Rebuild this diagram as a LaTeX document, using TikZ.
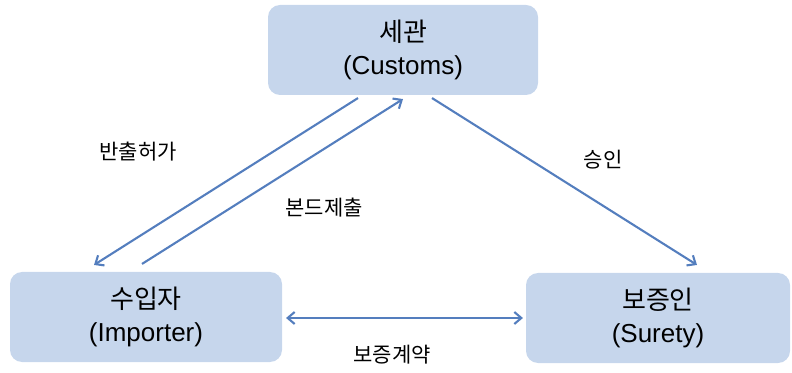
\documentclass[tikz,border=0pt]{standalone}
\usepackage{fontspec}
\setmainfont{Liberation Sans}
\newfontfamily\kor{Noto Sans CJK KR}
\usetikzlibrary{arrows.meta}

\definecolor{boxblue}{RGB}{198,214,236}
\definecolor{linkblue}{RGB}{84,126,190}

\begin{document}
\begin{tikzpicture}[x=1pt,y=1pt,>={Straight Barb[length=7pt,width=12pt]},
                line width=2.1pt,
                party/.style={rectangle,rounded corners=12pt,fill=boxblue,
                  minimum width=270pt,minimum height=90pt,align=center,
                  font=\fontsize{26}{33}\selectfont},
                link/.style={draw=linkblue,->},
                tag/.style={font=\kor\fontsize{21}{24}\selectfont}]
  \useasboundingbox (0,0) rectangle (792,372);

  \node[party] (customs) at (403,322) {{\kor 세관}\\(Customs)};
  \node[party,minimum width=272pt] (importer) at (146,55) {{\kor 수입자}\\(Importer)};
  \node[party,minimum width=264pt] (surety) at (658,54) {{\kor 보증인}\\(Surety)};

  \draw[link] ([xshift=-45pt,yshift=-2pt]customs.south) -- ([xshift=-52pt,yshift=6pt]importer.north);
  \draw[link] ([xshift=-4pt,yshift=7pt]importer.north) -- ([yshift=-3pt]customs.south);
  \draw[link] ([xshift=29pt,yshift=-2pt]customs.south) -- ([xshift=39pt,yshift=7pt]surety.north);
  \draw[link,<->] ([xshift=3pt,yshift=-1pt]importer.east) -- ([xshift=-2pt]surety.west);

  \node[tag] (permit) at (138,220) {반출허가};
  \node[tag] (bond) at (324,164) {본드제출};
  \node[tag] (approve) at (603,212) {승인};
  \node[tag] (contract) at (392,17) {보증계약};

\end{tikzpicture}
\end{document}
